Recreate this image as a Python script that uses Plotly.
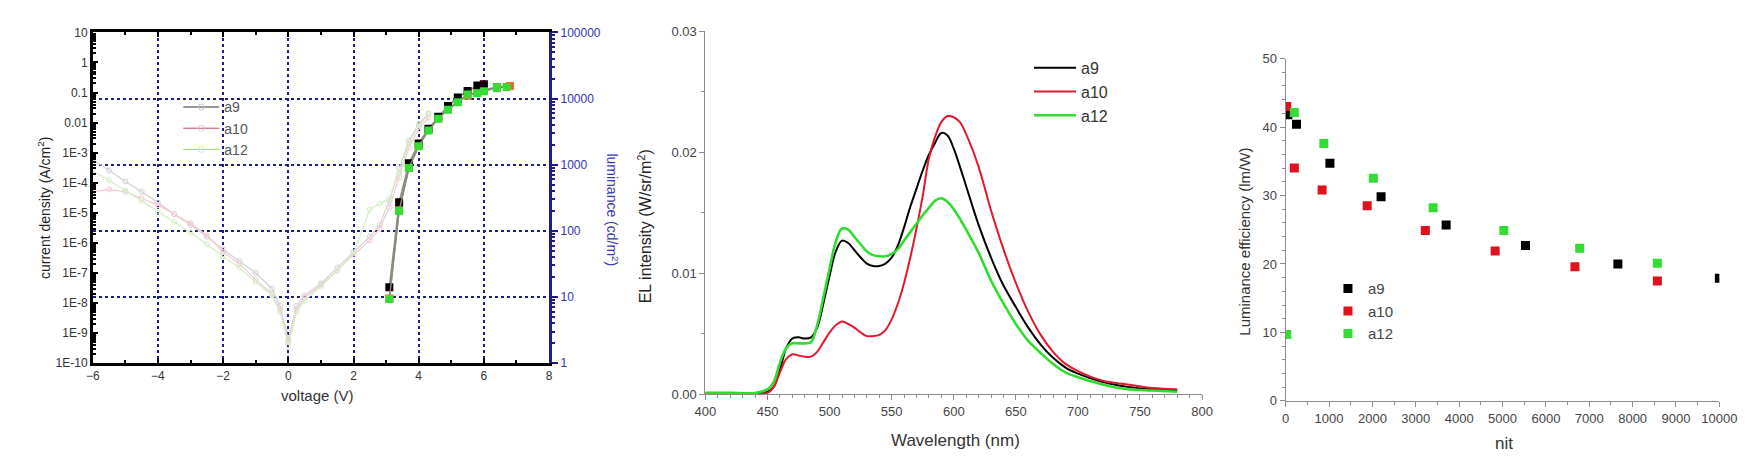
import plotly.graph_objects as go

W, H = 1751, 457
FONT = "Arial, Liberation Sans, sans-serif"
NAVY = "#1c1c8c"

# ---------------- Panel 1 : J-V-L ----------------
jv_voltage = [-6, -5.5, -5, -4.5, -4, -3.5, -3, -2.5, -2, -1.5, -1, -0.5, -0.25, 0,
              0.25, 0.5, 1, 1.5, 2, 2.5, 2.8, 3.1, 3.4, 3.7, 4.0, 4.3]
jv_a9 = [6e-4, 2.5e-4, 1.1e-4, 5e-5, 2.2e-5, 9e-6, 4e-6, 1.6e-6, 6e-7, 2.5e-7, 1e-7, 3e-8, 8e-9, 6e-10,
         8e-9, 1.8e-8, 4.5e-8, 1.5e-7, 5e-7, 1.6e-6, 4e-6, 2.5e-5, 3e-4, 2.5e-3, 9e-3, 2e-2]
jv_a10 = [5e-5, 6e-5, 5e-5, 3e-5, 1.8e-5, 9e-6, 4.5e-6, 1.8e-6, 5e-7, 2e-7, 6e-8, 2e-8, 6e-9, 5e-10,
          6e-9, 1.5e-8, 4e-8, 1.2e-7, 4e-7, 1.2e-6, 3e-6, 1.5e-5, 1.5e-4, 1.5e-3, 6e-3, 1.5e-2]
jv_a12 = [2.5e-4, 1.2e-4, 5.5e-5, 2.5e-5, 1.1e-5, 5e-6, 2.2e-6, 9e-7, 3.5e-7, 1.5e-7, 5e-8, 1.8e-8, 5e-9, 4e-10,
          5e-9, 1.2e-8, 3.5e-8, 1.2e-7, 4.5e-7, 1.3e-5, 2e-5, 3e-5, 2e-4, 2e-3, 8e-3, 1.8e-2]

lum_v_a9 = [3.1, 3.4, 3.7, 4.0, 4.3, 4.6, 4.9, 5.2, 5.5, 5.8, 6.0]
lum_a9 = [14, 270, 1050, 2100, 3500, 5300, 7700, 10400, 13000, 15700, 16500]
lum_v_a10 = [3.1, 3.4, 3.7, 4.0, 4.3, 4.6, 4.9, 5.2, 5.5, 5.8, 6.0, 6.4, 6.8]
lum_a10 = [9.5, 210, 900, 1950, 3400, 5000, 7000, 9000, 11000, 12500, 13500, 15000, 15500]
lum_v_a12 = [3.1, 3.4, 3.7, 4.0, 4.3, 4.6, 4.9, 5.2, 5.5, 5.8, 6.0, 6.4, 6.7]
lum_a12 = [9.3, 200, 890, 1900, 3300, 4950, 6800, 8800, 11500, 12000, 12900, 14500, 15000]

jd_tickvals = [1e-10, 1e-9, 1e-8, 1e-7, 1e-6, 1e-5, 1e-4, 1e-3, 0.01, 0.1, 1, 10]
jd_ticktext = ["1E-10", "1E-9", "1E-8", "1E-7", "1E-6", "1E-5", "1E-4", "1E-3", "0.01", "0.1", "1", "10"]
lum_tickvals = [1, 10, 100, 1000, 10000, 100000]
lum_ticktext = ["1", "10", "100", "1000", "10000", "100000"]

# ---------------- Panel 2 : EL spectra ----------------
wl = [400, 420, 440, 450, 455, 460, 465, 470, 475, 480, 485, 490, 495, 500, 505, 510, 515, 520,
      525, 530, 535, 540, 545, 550, 555, 560, 565, 570, 575, 580, 585, 590, 595, 600, 605, 610,
      620, 630, 640, 650, 660, 670, 680, 690, 700, 720, 740, 760, 780]
el_a9 = [0.0001, 0.0001, 0.0001, 0.0002, 0.0006, 0.0020, 0.0038, 0.0046, 0.0047, 0.0046, 0.0047,
         0.0055, 0.0075, 0.0098, 0.0118, 0.0127, 0.0125, 0.0119, 0.0113, 0.0108, 0.0106, 0.0106,
         0.0108, 0.0113, 0.0123, 0.0138, 0.0155, 0.0170, 0.0185, 0.0198, 0.0208, 0.0216, 0.0214,
         0.0203, 0.0188, 0.0172, 0.0140, 0.0113, 0.0090, 0.0072, 0.0055, 0.0041, 0.0030, 0.0022,
         0.0017, 0.0010, 0.0006, 0.0004, 0.0003]
el_a10 = [0.0001, 0.0001, 0.0001, 0.0001, 0.0006, 0.0018, 0.0029, 0.0033, 0.0032, 0.0031, 0.0031,
          0.0035, 0.0043, 0.0051, 0.0057, 0.0060, 0.0058, 0.0055, 0.0051, 0.0048, 0.0048, 0.0049,
          0.0053, 0.0062, 0.0075, 0.0092, 0.0113, 0.0137, 0.0164, 0.0195, 0.0213, 0.0225, 0.0230,
          0.0229, 0.0225, 0.0215, 0.0188, 0.0152, 0.0120, 0.0092, 0.0068, 0.0049, 0.0035, 0.0025,
          0.0019, 0.0011, 0.0008, 0.0005, 0.0004]
el_a12 = [0.0001, 0.0001, 0.0001, 0.0004, 0.0010, 0.0026, 0.0038, 0.0042, 0.0042, 0.0042, 0.0043,
          0.0057, 0.0080, 0.0104, 0.0126, 0.0137, 0.0136, 0.0130, 0.0124, 0.0118, 0.0115, 0.0114,
          0.0114, 0.0116, 0.0120, 0.0127, 0.0134, 0.0141, 0.0148, 0.0154, 0.0160, 0.0162, 0.0159,
          0.0153, 0.0145, 0.0136, 0.0117, 0.0094, 0.0075, 0.0058, 0.0044, 0.0034, 0.0025, 0.0018,
          0.0014, 0.0008, 0.0004, 0.0003, 0.0002]

# ---------------- Panel 3 : efficiency vs luminance ----------------
nit_a9 = [50, 250, 1020, 2200, 3700, 5530, 7660, 10000]
eff_a9 = [41.8, 40.4, 34.7, 29.8, 25.7, 22.7, 20.0, 17.9]
nit_a10 = [25, 200, 840, 1880, 3220, 4830, 6670, 8570]
eff_a10 = [43.0, 34.0, 30.8, 28.5, 24.9, 21.9, 19.6, 17.5]
nit_a12 = [25, 200, 880, 2020, 3400, 5030, 6780, 8570]
eff_a12 = [9.7, 42.1, 37.6, 32.5, 28.2, 24.9, 22.3, 20.1]

fig = go.Figure()

# JV curves (very pale, open circles)
for name, y, col in [("a9", jv_a9, "#d2d2d2"), ("a10", jv_a10, "#f3cad1"), ("a12", jv_a12, "#d3efc6")]:
    fig.add_trace(go.Scatter(x=jv_voltage, y=y, name=name, mode="lines+markers", showlegend=False,
                             line=dict(color=col, width=1.2),
                             marker=dict(symbol="circle-open", size=5, color=col, line=dict(width=1)),
                             xaxis="x", yaxis="y"))
# legend entries for panel 1 (keys only)
for name, lcol, mcol in [("a9", "#333333", "#c8c8c8"), ("a10", "#b84a66", "#f0c0c8"),
                         ("a12", "#9ad86a", "#cfeec0")]:
    fig.add_trace(go.Scatter(x=[None], y=[None], name=name, mode="lines+markers",
                             line=dict(color=lcol, width=1),
                             marker=dict(symbol="circle-open", size=6, color=mcol),
                             xaxis="x", yaxis="y", legend="legend", legendgroup="jv" + name))

# Luminance curves (filled markers) on right axis
for name, xv, y, col in [("a10", lum_v_a10, lum_a10, "#f06a28"),
                         ("a9", lum_v_a9, lum_a9, "#000000"),
                         ("a12", lum_v_a12, lum_a12, "#33dd33")]:
    fig.add_trace(go.Scatter(x=xv, y=y, name=name, mode="lines+markers", showlegend=False,
                             line=dict(color="#8a8a7c", width=1.5),
                             marker=dict(symbol="square", size=8, color=col),
                             xaxis="x", yaxis="y2"))

# EL spectra
for name, y, col, w in [("a9", el_a9, "#000000", 2), ("a10", el_a10, "#e3182e", 2),
                        ("a12", el_a12, "#2fdc2f", 2.6)]:
    fig.add_trace(go.Scatter(x=wl, y=y, name=name, mode="lines", line=dict(color=col, width=w, shape="spline"),
                             xaxis="x2", yaxis="y3", legend="legend2", legendgroup="el" + name))

# Efficiency scatter
for name, xv, y, col in [("a9", nit_a9, eff_a9, "#000000"), ("a10", nit_a10, eff_a10, "#e0101c"),
                         ("a12", nit_a12, eff_a12, "#33dd33")]:
    fig.add_trace(go.Scatter(x=xv, y=y, name=name, mode="markers",
                             marker=dict(symbol="square", size=9, color=col),
                             xaxis="x3", yaxis="y4", legend="legend3", legendgroup="ef" + name))

jd_minor = [m * 10.0 ** e for e in range(-10, 1) for m in range(2, 10)]
lum_minor = [m * 10.0 ** e for e in range(0, 5) for m in range(2, 10)]

gray_axis = dict(showline=True, linecolor="#8c8c8c", linewidth=1.2, ticks="outside",
                 tickcolor="#8c8c8c", ticklen=5, showgrid=False, zeroline=False,
                 tickfont=dict(family=FONT, size=13, color="#444"))


def title(text, x, y, size, color, angle=0):
    return dict(text=text, x=x / W, y=1 - y / H, xref="paper", yref="paper", xanchor="center",
                yanchor="middle", textangle=angle, showarrow=False,
                font=dict(family=FONT, size=size, color=color))


fig.update_layout(
    width=W, height=H, margin=dict(l=0, r=0, t=0, b=0),
    paper_bgcolor="white", plot_bgcolor="rgba(0,0,0,0)",
    font=dict(family=FONT, color="#333"),
    xaxis=dict(domain=[75 / W, 539 / W], range=[-6, 8], anchor="y",
               tickmode="linear", tick0=-6, dtick=2, ticks="inside", ticklen=5, tickwidth=1.5,
               tickcolor="black", showline=True, linecolor="black", linewidth=2.5, mirror="ticks",
               showgrid=True, gridcolor=NAVY, griddash="dot", gridwidth=2, zeroline=False,
               minor=dict(dtick=1, ticks="inside", ticklen=3, tickcolor="black", showgrid=False),
               tickfont=dict(family=FONT, size=12, color="#333")),
    yaxis=dict(domain=[1 - 360 / H, 1 - 18 / H], type="log", range=[-10, 1], anchor="x",
               tickmode="array", tickvals=jd_tickvals, ticktext=jd_ticktext,
               ticks="inside", ticklen=5, tickwidth=1.5, tickcolor="black",
               showline=True, linecolor="black", linewidth=2.5, showgrid=False, zeroline=False,
               minor=dict(tickmode="array", tickvals=jd_minor, ticks="inside", ticklen=3,
                          tickcolor="black", showgrid=False),
               tickfont=dict(family=FONT, size=12, color="#333")),
    yaxis2=dict(overlaying="y", side="right", anchor="x", type="log", range=[0, 5],
                tickmode="array", tickvals=lum_tickvals, ticktext=lum_ticktext,
                ticks="outside", ticklen=6, tickwidth=1.5, tickcolor=NAVY,
                showline=True, linecolor=NAVY, linewidth=3,
                showgrid=True, gridcolor=NAVY, griddash="dot", gridwidth=2, zeroline=False,
                minor=dict(tickmode="array", tickvals=lum_minor, ticks="outside", ticklen=3,
                           tickcolor=NAVY, showgrid=False),
                tickfont=dict(family=FONT, size=12, color="#3434b4")),
    xaxis2=dict(gray_axis, domain=[698 / W, 1203 / W], range=[400, 800], anchor="y3",
                tickmode="linear", tick0=400, dtick=50,
                minor=dict(dtick=10, ticks="outside", ticklen=3, tickcolor="#8c8c8c")),
    yaxis3=dict(gray_axis, domain=[1 - 392 / H, 1 - 17 / H], range=[0, 0.03], anchor="x2",
                tickmode="linear", tick0=0, dtick=0.01, tickformat=".2f",
                minor=dict(dtick=0.005, ticks="outside", ticklen=3, tickcolor="#8c8c8c")),
    xaxis3=dict(gray_axis, domain=[1288 / W, 1729 / W], range=[0, 10000], anchor="y4",
                tickmode="linear", tick0=0, dtick=1000, tickformat="d",
                minor=dict(dtick=500, ticks="outside", ticklen=3, tickcolor="#8c8c8c")),
    yaxis4=dict(gray_axis, domain=[1 - 399 / H, 1 - 45 / H], range=[0, 50], anchor="x3",
                tickmode="linear", tick0=0, dtick=10,
                minor=dict(dtick=2, ticks="outside", ticklen=3, tickcolor="#8c8c8c")),
    legend=dict(x=162 / W, y=1 - 79 / H, xanchor="left", yanchor="top", bgcolor="rgba(0,0,0,0)",
                font=dict(family=FONT, size=14, color="#555"), tracegroupgap=0, itemwidth=36),
    legend2=dict(x=1027 / W, y=1 - 37 / H, xanchor="left", yanchor="top", bgcolor="rgba(0,0,0,0)",
                 font=dict(family=FONT, size=16, color="#333"), tracegroupgap=0, itemwidth=42),
    legend3=dict(x=1331 / W, y=1 - 266 / H, xanchor="left", yanchor="top", bgcolor="rgba(0,0,0,0)",
                 font=dict(family=FONT, size=15, color="#444"), tracegroupgap=0),
    annotations=[
        title("current density (A/cm<sup>2</sup>)", 26, 200, 14, "#222", -90),
        title("luminance (cd/m<sup>2</sup>)", 603, 201, 14, "#3a3ab8", 90),
        title("voltage (V)", 304, 393, 15, "#333"),
        title("EL intensity (W/sr/m<sup>2</sup>)", 636, 218, 16, "#222", -90),
        title("Wavelength (nm)", 952, 440, 17, "#333"),
        title("Luminance efficiency (lm/W)", 1246, 234, 15, "#333", -90),
        title("nit", 1510, 443, 17, "#333"),
    ],
)

fig.write_html("out.html")
